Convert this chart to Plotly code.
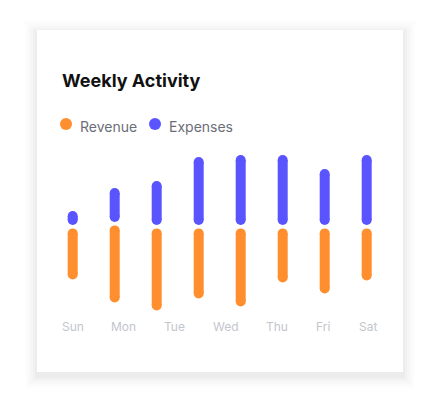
import plotly.graph_objects as go

days = ["Sun", "Mon", "Tue", "Wed", "Thu", "Fri", "Sat"]
label_pos = [0, 1.22, 2.43, 3.64, 4.87, 5.97, 7.04]
bar_idx = [0, 1, 2, 3, 4, 5, 6, 7]
expenses = [14, 34, 44, 68, 70, 70, 56, 70]
revenue = [51, 77, 82, 70, 78, 54, 65, 52]
exp_offset = [0, 3, 0, 0, 0, 0, 0, 0]
rev_offset = [0, 3, 0, 0, 0, 0, 0, 0]

ORANGE = "#FF8F2E"
PURPLE = "#5A54FF"
G = 1.7
R = 5
OX, OY = 8, 8  # page body margin offset

def px(x):
    return (x - OX) / 440

def py(y):
    return 1 - (y - OY) / 416

def segs(sign, vals, offs):
    xs, ys = [], []
    for i, v, o in zip(bar_idx, vals, offs):
        a = sign * (G + R) + o
        b = sign * (G + v - R) + o
        xs += [i, i, None]; ys += [a, b, None]
    return xs, ys

fig = go.Figure()
for k, op in enumerate([0.006, 0.008, 0.01, 0.012, 0.015, 0.018]):
    d = 12 - 2 * k
    fig.add_shape(type="rect", xref="paper", yref="paper",
                  x0=px(37 - d), x1=px(403 + d), y0=py(374 + d + 2), y1=py(30 - d + 3),
                  fillcolor=f"rgba(0,0,0,{op})", line_width=0, layer="below")
fig.add_shape(type="rect", xref="paper", yref="paper", x0=px(37), x1=px(403),
              y0=py(372), y1=py(30), fillcolor="white", line_width=0, layer="below")

for sign, vals, offs, col in [(1, expenses, exp_offset, PURPLE), (-1, revenue, rev_offset, ORANGE)]:
    xs, ys = segs(sign, vals, offs)
    fig.add_trace(go.Scatter(x=xs, y=ys, mode="lines", line=dict(color=col, width=10),
                             hoverinfo="skip", showlegend=False))
    ex, ey = [], []
    for x, y in zip(xs, ys):
        if x is not None:
            ex.append(x); ey.append(y)
    fig.add_trace(go.Scatter(x=ex, y=ey, mode="markers", marker=dict(color=col, size=10),
                             hoverinfo="skip", showlegend=False))

for d, p in zip(days, label_pos):
    fig.add_annotation(x=p, y=-99.3, text=d, showarrow=False, yanchor="middle",
                       font=dict(family="Inter", size=12, color="#c3c6cc"))

fig.add_annotation(xref="paper", yref="paper", x=px(60), y=py(81), xanchor="left", yanchor="middle",
                   text="<b>Weekly Activity</b>", showarrow=False,
                   font=dict(family="Inter", size=18, color="#111111"))
for cx, tx, t, col in [(66, 78, "Revenue", ORANGE), (155, 167, "Expenses", PURPLE)]:
    fig.add_shape(type="circle", xref="paper", yref="paper",
                  x0=px(cx - 6), x1=px(cx + 6), y0=py(130), y1=py(118),
                  fillcolor=col, line_width=0)
    fig.add_annotation(xref="paper", yref="paper", x=px(tx), y=py(126), xanchor="left", yanchor="middle",
                       text=t, showarrow=False, font=dict(family="Inter", size=14, color="#6b6e78"))

x0 = 72.7 - OX
y0 = 226.7 - OY
fig.update_layout(width=440, height=416, margin=dict(l=0, r=0, t=0, b=0),
                  paper_bgcolor="white", plot_bgcolor="rgba(0,0,0,0)",
                  xaxis=dict(range=[-x0 / 42, (440 - x0) / 42], visible=False, fixedrange=True),
                  yaxis=dict(range=[y0 - 416, y0], visible=False, fixedrange=True))
fig.write_html("out.html", config={"displayModeBar": False})
